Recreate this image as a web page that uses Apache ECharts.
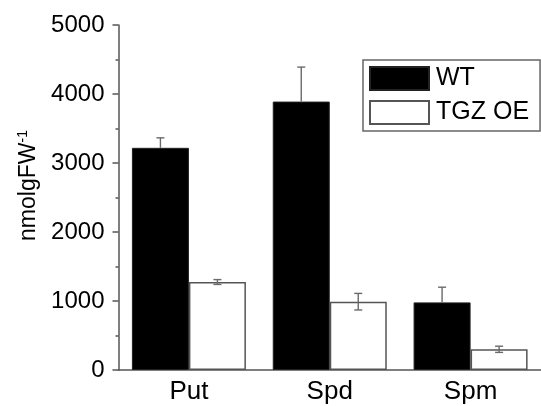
<!DOCTYPE html>
<html>
<head>
<meta charset="utf-8">
<script src="https://cdn.jsdelivr.net/npm/echarts@6/dist/echarts.min.js"></script>
<style>
  html, body { margin: 0; padding: 0; background: #fff; }
  #chart { width: 541px; height: 406px; }
</style>
</head>
<body>
<div id="chart"></div>
<script>
  // polyamine content
  var categories = ['Put', 'Spd', 'Spm']
  var wtValues = [3220, 3890, 980]
  var wtErrors = [145, 500, 220]
  var oeValues = [1275, 990, 300]
  var oeErrors = [35, 120, 45]
  var yTicks = [0, 1000, 2000, 3000, 4000, 5000]

  var FONT = "'Liberation Sans', Arial, sans-serif"
  var BAR_W = 57
  var AXIS_COLOR = '#555'

  // error bars: onlyUp -> whisker hidden inside the black bar
  function errorRenderer(values, errors, side, onlyUp) {
    return function (params, api) {
      var i = params.dataIndex
      var x = api.coord([api.value(0), 0])[0] + side * BAR_W / 2
      var top = api.coord([api.value(0), values[i] + errors[i]])[1]
      var mid = api.coord([api.value(0), values[i]])[1]
      var bot = onlyUp ? mid : api.coord([api.value(0), values[i] - errors[i]])[1]
      var cap = 4
      var style = { stroke: '#6a6a6a', lineWidth: 1.4 }
      var children = [
        { type: 'line', shape: { x1: x, y1: top, x2: x, y2: bot }, style: style },
        { type: 'line', shape: { x1: x - cap, y1: top, x2: x + cap, y2: top }, style: style }
      ]
      if (!onlyUp) {
        children.push({ type: 'line', shape: { x1: x - cap, y1: bot, x2: x + cap, y2: bot }, style: style })
      }
      return { type: 'group', children: children }
    }
  }

  var chart = echarts.init(document.getElementById('chart'))
  chart.setOption({
    backgroundColor: '#fff',
    animation: false,
    textStyle: { fontFamily: FONT },
    grid: { left: 118.5, right: -3, top: 25, bottom: 36 },
    legend: {
      data: ['WT', 'TGZ OE'],
      orient: 'vertical',
      left: 363,
      top: 60,
      icon: 'rect',
      itemWidth: 59,
      itemHeight: 23,
      itemGap: 9,
      padding: [6, 11, 6, 6],
      borderColor: '#666',
      borderWidth: 1.5,
      textStyle: { fontSize: 25, color: '#000', fontFamily: FONT, padding: [0, 0, 0, 2] }
    },
    xAxis: [
      {
        type: 'category',
        data: categories,
        position: 'bottom',
        axisLine: { lineStyle: { color: AXIS_COLOR, width: 1.5 } },
        axisTick: { length: 3, lineStyle: { color: AXIS_COLOR, width: 1.5 } },
        axisLabel: { fontSize: 26, color: '#000', margin: 9, fontFamily: FONT }
      },
      {
        type: 'category',
        data: categories,
        position: 'bottom',
        axisLine: { show: false },
        axisTick: { alignWithLabel: true, length: 5, lineStyle: { color: AXIS_COLOR, width: 1.5 } },
        axisLabel: { show: false }
      }
    ],
    yAxis: {
      type: 'value',
      min: yTicks[0],
      max: yTicks[yTicks.length - 1],
      interval: 1000,
      name: 'nmolgFW{sup|-1}',
      nameLocation: 'middle',
      nameGap: 76,
      nameTextStyle: {
        fontSize: 23,
        color: '#000',
        fontFamily: FONT,
        padding: [0, 0, 0, 24],
        rich: {
          sup: { fontSize: 14, color: '#000', fontFamily: FONT, verticalAlign: 'top', padding: [0, 0, 12, 0] }
        }
      },
      axisLine: { show: true, lineStyle: { color: AXIS_COLOR, width: 1.5 } },
      axisTick: { show: true, length: 6, lineStyle: { color: AXIS_COLOR, width: 1.5 } },
      minorTick: { show: true, splitNumber: 2, length: 3, lineStyle: { color: AXIS_COLOR, width: 1.5 } },
      splitLine: { show: false },
      axisLabel: {
        fontSize: 24,
        color: '#000',
        margin: 14,
        fontFamily: FONT,
        formatter: function (v) { return String(v) }
      }
    },
    series: [
      {
        name: 'WT',
        type: 'bar',
        data: wtValues,
        barWidth: BAR_W,
        barGap: '0%',
        itemStyle: { color: '#000', borderColor: '#222', borderWidth: 1 }
      },
      {
        name: 'TGZ OE',
        type: 'bar',
        data: oeValues,
        barWidth: BAR_W,
        barGap: '0%',
        itemStyle: { color: '#fff', borderColor: '#555', borderWidth: 1.5 }
      },
      {
        name: 'wtErr',
        type: 'custom',
        data: categories.map(function (c, i) { return [i, wtValues[i]] }),
        renderItem: errorRenderer(wtValues, wtErrors, -1, true),
        z: 5
      },
      {
        name: 'oeErr',
        type: 'custom',
        data: categories.map(function (c, i) { return [i, oeValues[i]] }),
        renderItem: errorRenderer(oeValues, oeErrors, 1, false),
        z: 5
      }
    ]
  })
</script>
</body>
</html>
